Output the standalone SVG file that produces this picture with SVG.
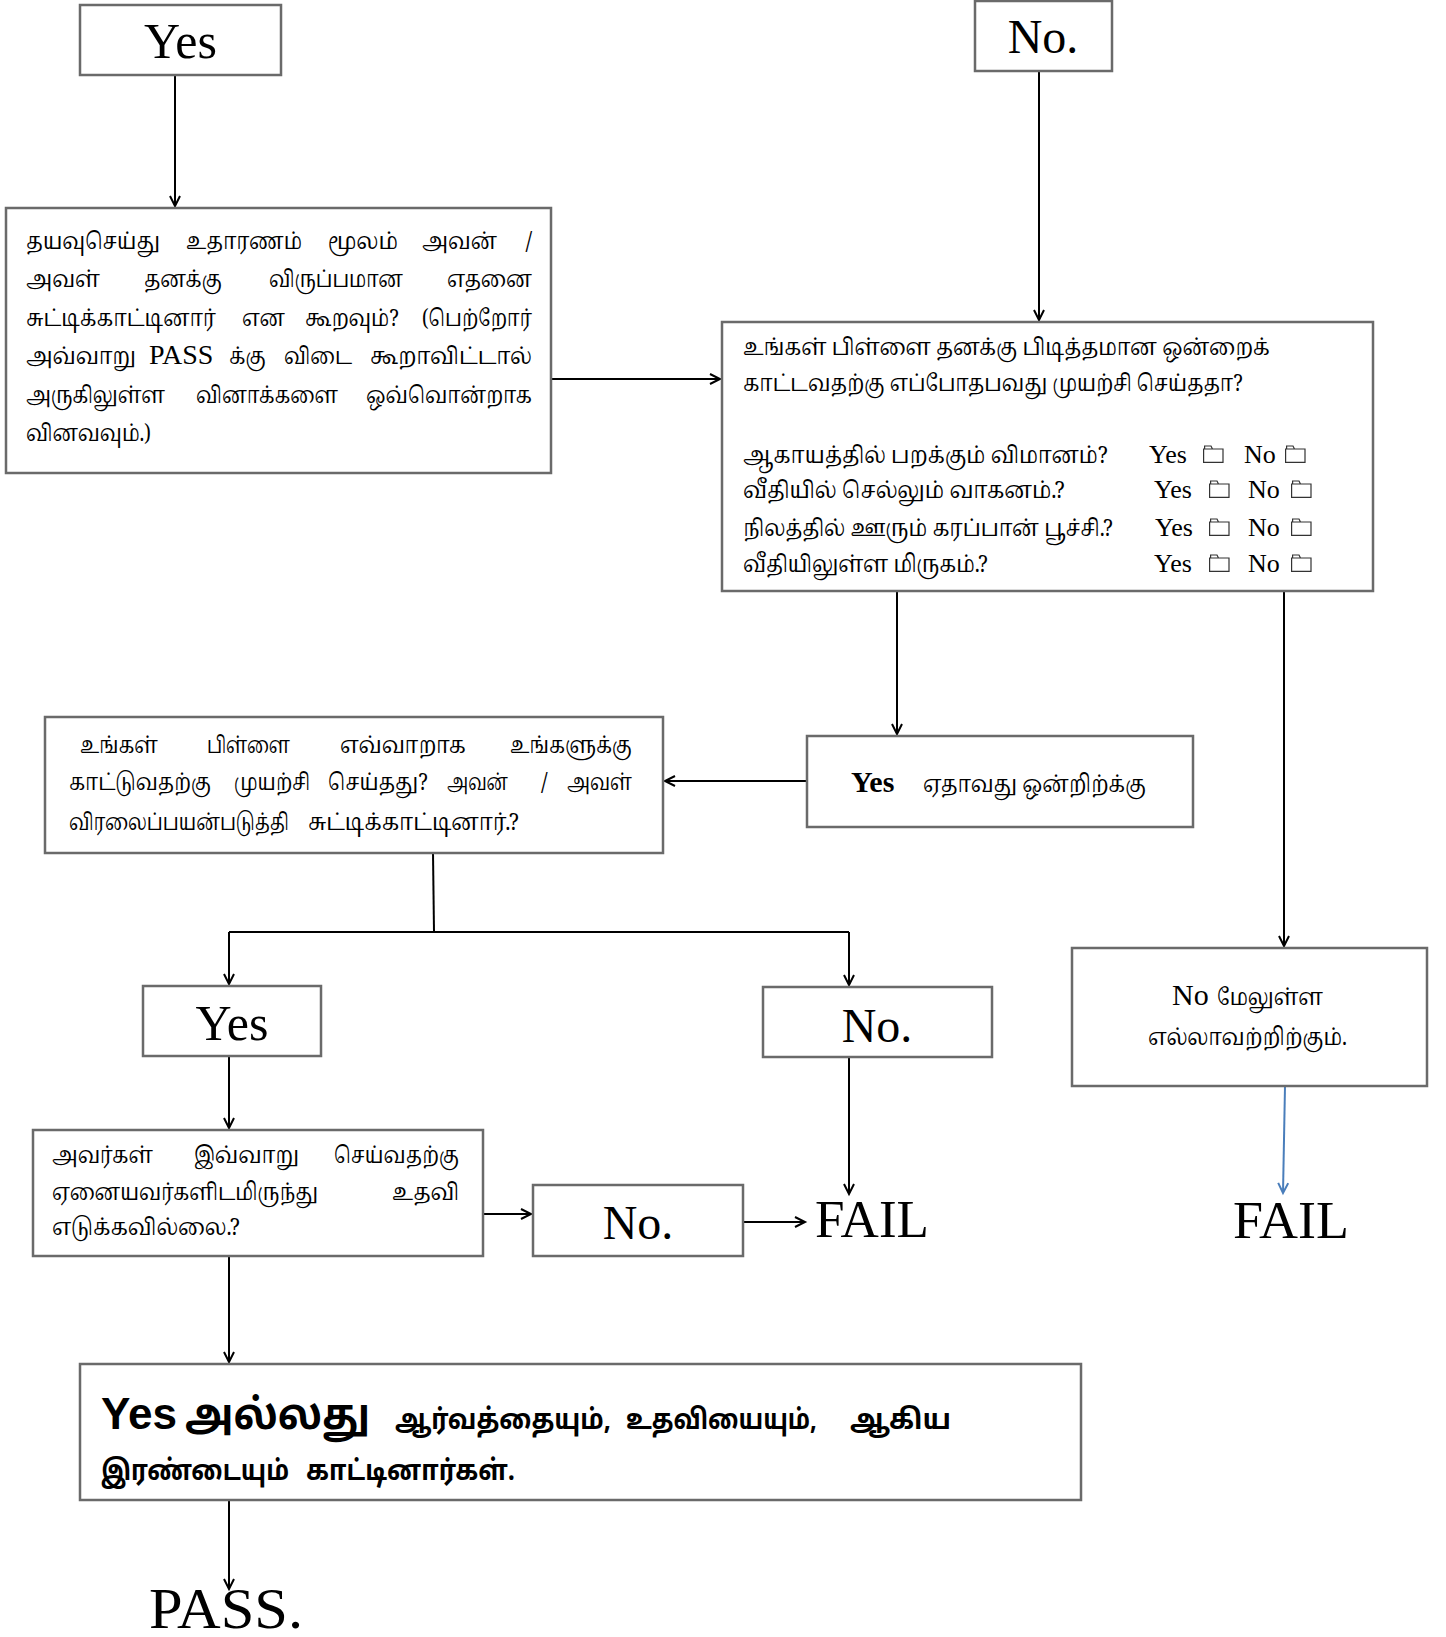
<svg xmlns="http://www.w3.org/2000/svg" width="1446" height="1637" viewBox="0 0 1446 1637">
<style>
.box{fill:#fff;stroke:#6a6a6a;stroke-width:2.5}
.ln{fill:none;stroke:#000;stroke-width:2}
.blue{fill:none;stroke:#4a7ebb;stroke-width:2}
.lat{font-family:"Liberation Serif","Times New Roman",serif;fill:#000}
.ta{font-family:"Noto Serif Tamil","Noto Sans Tamil","Latha","Lohit Tamil","Liberation Serif",serif;fill:#000}
.tb{font-family:"Noto Sans Tamil","Latha","Lohit Tamil","Liberation Sans",sans-serif;font-weight:bold;fill:#000}
.big{font-size:48px}
.t24{font-size:23px}
.yn{font-size:26px}
.chk{fill:#fff;stroke:#333;stroke-width:1.2}
</style>
<defs>
<marker id="ah" markerWidth="14" markerHeight="14" refX="11" refY="6" orient="auto" markerUnits="userSpaceOnUse">
<path d="M1,1 L11,6 L1,11" fill="none" stroke="#000" stroke-width="2"/>
</marker>
<marker id="ahb" markerWidth="14" markerHeight="14" refX="11" refY="6" orient="auto" markerUnits="userSpaceOnUse">
<path d="M1,1 L11,6 L1,11" fill="none" stroke="#4a7ebb" stroke-width="2"/>
</marker>
<g id="cb"><path class="chk" d="M0.6,4 H20 V17.4 H0.6 Z M1.6,4 V1 H8 L9.5,4"/></g>
</defs>

<g id="connectors">
<line class="ln" x1="175" y1="75" x2="175" y2="206" marker-end="url(#ah)"/>
<line class="ln" x1="1039" y1="71" x2="1039" y2="320" marker-end="url(#ah)"/>
<line class="ln" x1="551" y1="379" x2="720" y2="379" marker-end="url(#ah)"/>
<line class="ln" x1="897" y1="591" x2="897" y2="734" marker-end="url(#ah)"/>
<line class="ln" x1="1284" y1="591" x2="1284" y2="946" marker-end="url(#ah)"/>
<line class="ln" x1="806" y1="781" x2="665" y2="781" marker-end="url(#ah)"/>
<polyline class="ln" points="433,853 434,932"/>
<line class="ln" x1="229" y1="932" x2="849" y2="932"/>
<line class="ln" x1="229" y1="932" x2="229" y2="984" marker-end="url(#ah)"/>
<line class="ln" x1="849" y1="932" x2="849" y2="985" marker-end="url(#ah)"/>
<line class="ln" x1="229" y1="1056" x2="229" y2="1128" marker-end="url(#ah)"/>
<line class="ln" x1="849" y1="1057" x2="849" y2="1194" marker-end="url(#ah)"/>
<line class="ln" x1="483" y1="1214" x2="531" y2="1214" marker-end="url(#ah)"/>
<line class="ln" x1="743" y1="1222" x2="805" y2="1222" marker-end="url(#ah)"/>
<line class="ln" x1="229" y1="1256" x2="229" y2="1362" marker-end="url(#ah)"/>
<line class="ln" x1="229" y1="1500" x2="229" y2="1589" marker-end="url(#ah)"/>
<line class="blue" x1="1285" y1="1086" x2="1283" y2="1193" marker-end="url(#ahb)"/>
</g>

<g id="yes-top">
<rect class="box" x="80" y="5" width="201" height="70"/>
<text class="lat" x="180.5" y="58" text-anchor="middle" style="font-size:50px">Yes</text>
</g>

<g id="no-top">
<rect class="box" x="975" y="1" width="137" height="70"/>
<text class="lat big" x="1043" y="53" text-anchor="middle">No.</text>
</g>

<g id="box1">
<rect class="box" x="6" y="208" width="545" height="265"/>
<g class="ta t24">
<text x="26" y="249" textLength="134" lengthAdjust="spacingAndGlyphs">தயவுசெய்து</text>
<text x="186" y="249" textLength="116" lengthAdjust="spacingAndGlyphs">உதாரணம்</text>
<text x="328" y="249" textLength="70" lengthAdjust="spacingAndGlyphs">மூலம்</text>
<text x="422" y="249" textLength="75" lengthAdjust="spacingAndGlyphs">அவன்</text>
<text x="532" y="249" text-anchor="end">/</text>
<text x="26" y="287" textLength="74" lengthAdjust="spacingAndGlyphs">அவள்</text>
<text x="144" y="287" textLength="78" lengthAdjust="spacingAndGlyphs">தனக்கு</text>
<text x="269" y="287" textLength="134" lengthAdjust="spacingAndGlyphs">விருப்பமான</text>
<text x="447" y="287" textLength="85" lengthAdjust="spacingAndGlyphs">எதனை</text>
<text x="26" y="326" textLength="190" lengthAdjust="spacingAndGlyphs">சுட்டிக்காட்டினார்</text>
<text x="242" y="326" textLength="43" lengthAdjust="spacingAndGlyphs">என</text>
<text x="305" y="326" textLength="94" lengthAdjust="spacingAndGlyphs">கூறவும்?</text>
<text x="422" y="326" textLength="110" lengthAdjust="spacingAndGlyphs">(பெற்றோர்</text>
<text x="26" y="364" textLength="110" lengthAdjust="spacingAndGlyphs">அவ்வாறு</text>
<text class="lat" x="149" y="364" style="font-size:28px">PASS</text>
<text x="229" y="364" textLength="37" lengthAdjust="spacingAndGlyphs">க்கு</text>
<text x="284" y="364" textLength="68" lengthAdjust="spacingAndGlyphs">விடை</text>
<text x="370" y="364" textLength="162" lengthAdjust="spacingAndGlyphs">கூறாவிட்டால்</text>
<text x="26" y="403" textLength="139" lengthAdjust="spacingAndGlyphs">அருகிலுள்ள</text>
<text x="196" y="403" textLength="142" lengthAdjust="spacingAndGlyphs">வினாக்களை</text>
<text x="366" y="403" textLength="166" lengthAdjust="spacingAndGlyphs">ஒவ்வொன்றாக</text>
<text x="26" y="441" textLength="125" lengthAdjust="spacingAndGlyphs">வினவவும்.)</text>
</g>
</g>

<g id="box2">
<rect class="box" x="722" y="322" width="651" height="269"/>
<g class="ta t24">
<text x="743" y="355" textLength="527" lengthAdjust="spacingAndGlyphs">உங்கள் பிள்ளை தனக்கு பிடித்தமான ஒன்றைக்</text>
<text x="743" y="391" textLength="500" lengthAdjust="spacingAndGlyphs">காட்டவதற்கு எப்போதபவது முயற்சி செய்ததா?</text>
<text x="743" y="463" textLength="365" lengthAdjust="spacingAndGlyphs">ஆகாயத்தில் பறக்கும் விமானம்?</text>
<text x="743" y="498" textLength="322" lengthAdjust="spacingAndGlyphs">வீதியில் செல்லும் வாகனம்.?</text>
<text x="743" y="536" textLength="370" lengthAdjust="spacingAndGlyphs">நிலத்தில் ஊரும் கரப்பான் பூச்சி.?</text>
<text x="743" y="572" textLength="245" lengthAdjust="spacingAndGlyphs">வீதியிலுள்ள மிருகம்.?</text>
</g>
<g class="lat yn">
<text x="1149" y="463">Yes</text><text x="1244" y="463">No</text>
<text x="1154" y="498">Yes</text><text x="1248" y="498">No</text>
<text x="1155" y="536">Yes</text><text x="1248" y="536">No</text>
<text x="1154" y="572">Yes</text><text x="1248" y="572">No</text>
</g>
<use href="#cb" x="1203" y="445"/><use href="#cb" x="1285" y="445"/>
<use href="#cb" x="1209" y="480"/><use href="#cb" x="1291" y="480"/>
<use href="#cb" x="1209" y="518"/><use href="#cb" x="1291" y="518"/>
<use href="#cb" x="1209" y="554"/><use href="#cb" x="1291" y="554"/>
</g>

<g id="yes-any">
<rect class="box" x="807" y="736" width="386" height="91"/>
<text class="lat" x="851" y="792" style="font-size:30px;font-weight:bold">Yes</text>
<text class="ta t24" x="923" y="792" textLength="223" lengthAdjust="spacingAndGlyphs">ஏதாவது ஒன்றிற்க்கு</text>
</g>

<g id="box3">
<rect class="box" x="45" y="717" width="618" height="136"/>
<g class="ta t24">
<text x="80" y="753" textLength="78" lengthAdjust="spacingAndGlyphs">உங்கள்</text>
<text x="207" y="753" textLength="83" lengthAdjust="spacingAndGlyphs">பிள்ளை</text>
<text x="340" y="753" textLength="126" lengthAdjust="spacingAndGlyphs">எவ்வாறாக</text>
<text x="510" y="753" textLength="122" lengthAdjust="spacingAndGlyphs">உங்களுக்கு</text>
<text x="69" y="790" textLength="142" lengthAdjust="spacingAndGlyphs">காட்டுவதற்கு</text>
<text x="234" y="790" textLength="76" lengthAdjust="spacingAndGlyphs">முயற்சி</text>
<text x="328" y="790" textLength="100" lengthAdjust="spacingAndGlyphs">செய்தது?</text>
<text x="447" y="790" textLength="61" lengthAdjust="spacingAndGlyphs">அவன்</text>
<text x="541" y="790">/</text>
<text x="567" y="790" textLength="65" lengthAdjust="spacingAndGlyphs">அவள்</text>
<text x="69" y="830" textLength="220" lengthAdjust="spacingAndGlyphs">விரலைப்பயன்படுத்தி</text>
<text x="308" y="830" textLength="211" lengthAdjust="spacingAndGlyphs">சுட்டிக்காட்டினார்.?</text>
</g>
</g>

<g id="no-all">
<rect class="box" x="1072" y="948" width="355" height="138"/>
<text class="lat" x="1172" y="1005" style="font-size:30px">No</text>
<text class="ta t24" x="1217" y="1005" textLength="106" lengthAdjust="spacingAndGlyphs">மேலுள்ள</text>
<text class="ta t24" x="1148" y="1045" textLength="199" lengthAdjust="spacingAndGlyphs">எல்லாவற்றிற்கும்.</text>
</g>

<g id="yes2">
<rect class="box" x="143" y="986" width="178" height="70"/>
<text class="lat" x="232" y="1040" text-anchor="middle" style="font-size:50px">Yes</text>
</g>

<g id="no2">
<rect class="box" x="763" y="987" width="229" height="70"/>
<text class="lat big" x="877" y="1042" text-anchor="middle">No.</text>
</g>

<g id="box4">
<rect class="box" x="33" y="1130" width="450" height="126"/>
<g class="ta t24">
<text x="52" y="1163" textLength="101" lengthAdjust="spacingAndGlyphs">அவர்கள்</text>
<text x="194" y="1163" textLength="105" lengthAdjust="spacingAndGlyphs">இவ்வாறு</text>
<text x="334" y="1163" textLength="125" lengthAdjust="spacingAndGlyphs">செய்வதற்கு</text>
<text x="52" y="1200" textLength="266" lengthAdjust="spacingAndGlyphs">ஏனையவர்களிடமிருந்து</text>
<text x="392" y="1200" textLength="67" lengthAdjust="spacingAndGlyphs">உதவி</text>
<text x="52" y="1235" textLength="188" lengthAdjust="spacingAndGlyphs">எடுக்கவில்லை.?</text>
</g>
</g>

<g id="no3">
<rect class="box" x="533" y="1185" width="210" height="71"/>
<text class="lat big" x="638" y="1239" text-anchor="middle">No.</text>
</g>

<g id="fail-mid">
<text class="lat" x="815" y="1237" style="font-size:53px" textLength="114" lengthAdjust="spacingAndGlyphs">FAIL</text>
</g>

<g id="fail-right">
<text class="lat" x="1233" y="1238" style="font-size:53px" textLength="116" lengthAdjust="spacingAndGlyphs">FAIL</text>
</g>

<g id="box5">
<rect class="box" x="80" y="1364" width="1001" height="136"/>
<text x="101" y="1429" style="font-family:'Liberation Sans',Arial,sans-serif;font-weight:bold;font-size:44px" textLength="76" lengthAdjust="spacingAndGlyphs">Yes</text>
<text class="tb" x="185" y="1429" style="font-size:42px" textLength="185" lengthAdjust="spacingAndGlyphs">அல்லது</text>
<text class="tb" x="395" y="1429" style="font-size:28px" textLength="216" lengthAdjust="spacingAndGlyphs">ஆர்வத்தையும்,</text>
<text class="tb" x="626" y="1429" style="font-size:28px" textLength="191" lengthAdjust="spacingAndGlyphs">உதவியையும்,</text>
<text class="tb" x="850" y="1429" style="font-size:28px" textLength="101" lengthAdjust="spacingAndGlyphs">ஆகிய</text>
<text class="tb" x="101" y="1480" style="font-size:28px" textLength="188" lengthAdjust="spacingAndGlyphs">இரண்டையும்</text>
<text class="tb" x="306" y="1480" style="font-size:28px" textLength="209" lengthAdjust="spacingAndGlyphs">காட்டினார்கள்.</text>
</g>

<g id="pass">
<text class="lat" x="149" y="1628" style="font-size:57px" textLength="154" lengthAdjust="spacingAndGlyphs">PASS.</text>
</g>
</svg>
